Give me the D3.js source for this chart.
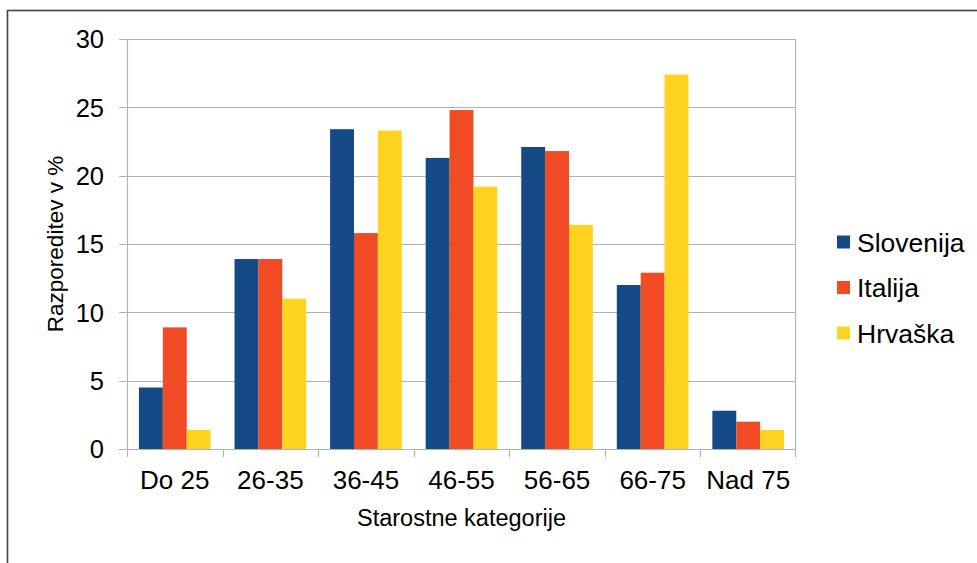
<!DOCTYPE html>
<html>
<head>
<meta charset="utf-8">
<script src="https://cdn.jsdelivr.net/npm/d3@7"></script>
<style>
  body { margin: 0; background: #fff; }
  text { font-family: "Liberation Sans", Arial, sans-serif; fill: #000; }
</style>
</head>
<body>
<script>
// data
var categories = ["Do 25", "26-35", "36-45", "46-55", "56-65", "66-75", "Nad 75"];
var seriesNames = ["Slovenija", "Italija", "Hrvaška"];
var slovenija = [4.5, 13.9, 23.4, 21.3, 22.1, 12.0, 2.8];
var italija   = [8.9, 13.9, 15.8, 24.8, 21.8, 12.9, 2.0];
var hrvaska   = [1.4, 11.0, 23.3, 19.2, 16.4, 27.4, 1.4];
var yTicks = [0, 5, 10, 15, 20, 25, 30];

var seriesValues = [slovenija, italija, hrvaska];

// plot box
var margin = {top: 39, left: 127},
    width = 669,
    height = 410;

var color = d3.scaleOrdinal()
    .domain(seriesNames)
    .range(["#144a86", "#f04b24", "#ffd320"]);

var svg = d3.select("body").append("svg")
    .attr("width", 977)
    .attr("height", 563);

// outer frame
svg.append("rect")
    .attr("x", 7.5).attr("y", 10.5)
    .attr("width", 1000).attr("height", 600)
    .style("fill", "none")
    .style("stroke", "#444")
    .style("stroke-width", 1.6);

var g = svg.append("g")
    .attr("transform", "translate(" + margin.left + "," + margin.top + ")");

var x0 = d3.scaleBand()
    .domain(categories)
    .range([0, width])
    .paddingInner(0.25)
    .paddingOuter(0.125);

var x1 = d3.scaleBand()
    .domain(seriesNames)
    .range([0, x0.bandwidth()]);

var y = d3.scaleLinear()
    .domain([0, 30])
    .range([height, 0]);

// grid lines
g.append("g")
    .selectAll("line")
    .data(yTicks)
    .enter().append("line")
    .attr("x1", -8).attr("x2", width)
    .attr("y1", function(d) { return Math.round(y(d)) + 0.5; })
    .attr("y2", function(d) { return Math.round(y(d)) + 0.5; })
    .style("stroke", "#b3b3b3")
    .style("stroke-width", 1.2);

// vertical axis lines (left and right)
g.append("line")
    .attr("x1", 0.5).attr("x2", 0.5)
    .attr("y1", 0).attr("y2", height + 8)
    .style("stroke", "#b3b3b3").style("stroke-width", 1.2);
g.append("line")
    .attr("x1", width - 0.5).attr("x2", width - 0.5)
    .attr("y1", 0).attr("y2", height + 8)
    .style("stroke", "#b3b3b3").style("stroke-width", 1.2);

// category separators on x axis
var step = x0.step();
g.append("g")
    .selectAll("line")
    .data(categories.slice(1))
    .enter().append("line")
    .attr("x1", function(d) { return Math.round(x0(d) - step * 0.125) + 0.5; })
    .attr("x2", function(d) { return Math.round(x0(d) - step * 0.125) + 0.5; })
    .attr("y1", height).attr("y2", height + 8)
    .style("stroke", "#b3b3b3").style("stroke-width", 1.2);

// bars
var groups = g.selectAll(".group")
    .data(categories)
    .enter().append("g")
    .attr("class", "group")
    .attr("transform", function(d) { return "translate(" + x0(d) + ",0)"; });

groups.selectAll("rect")
    .data(function(d, i) {
        return seriesNames.map(function(s, j) { return {key: s, value: seriesValues[j][i]}; });
    })
    .enter().append("rect")
    .attr("x", function(d) { return x1(d.key); })
    .attr("width", x1.bandwidth())
    .attr("y", function(d) { return y(d.value); })
    .attr("height", function(d) { return height - y(d.value); })
    .style("fill", function(d) { return color(d.key); });

// y tick labels
g.append("g")
    .selectAll("text")
    .data(yTicks)
    .enter().append("text")
    .attr("x", -23)
    .attr("y", function(d) { return y(d); })
    .attr("dy", "0.36em")
    .attr("text-anchor", "end")
    .style("font-size", "25.5px")
    .text(function(d) { return d; });

// x tick labels
g.append("g")
    .selectAll("text")
    .data(categories)
    .enter().append("text")
    .attr("x", function(d) { return x0(d) + x0.bandwidth() / 2; })
    .attr("y", height + 40)
    .attr("text-anchor", "middle")
    .style("font-size", "26px")
    .text(function(d) { return d; });

// axis titles
g.append("text")
    .attr("x", width / 2)
    .attr("y", height + 77)
    .attr("text-anchor", "middle")
    .style("font-size", "23.5px")
    .text("Starostne kategorije");

g.append("text")
    .attr("transform", "translate(" + (-64) + "," + (height / 2) + ") rotate(-90)")
    .attr("text-anchor", "middle")
    .style("font-size", "22.5px")
    .text("Razporeditev v %");

// legend
var legend = svg.append("g")
    .attr("transform", "translate(837,242)");

var item = legend.selectAll(".item")
    .data(seriesNames)
    .enter().append("g")
    .attr("class", "item")
    .attr("transform", function(d, i) { return "translate(0," + (i * 45.5) + ")"; });

item.append("rect")
    .attr("x", 0).attr("y", -6.5)
    .attr("width", 13).attr("height", 13)
    .style("fill", function(d) { return color(d); });

item.append("text")
    .attr("x", 20)
    .attr("y", 0)
    .attr("dy", "0.36em")
    .style("font-size", "26.5px")
    .text(function(d) { return d; });
</script>
</body>
</html>
